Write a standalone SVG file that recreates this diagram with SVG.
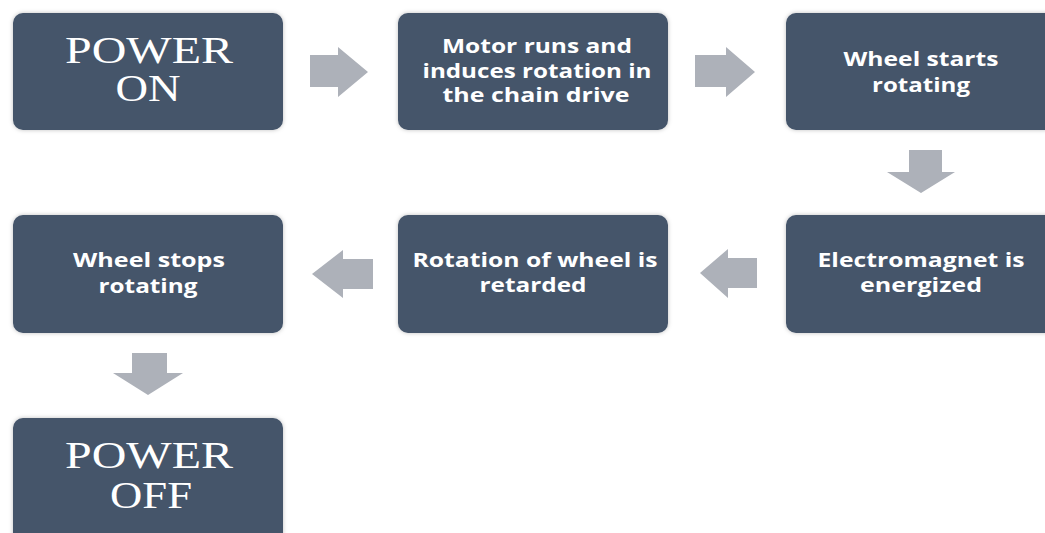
<svg xmlns="http://www.w3.org/2000/svg" width="1045" height="533" viewBox="0 0 1045 533">
  <defs>
    <filter id="sh" x="-10%" y="-10%" width="120%" height="120%">
      <feDropShadow dx="0" dy="0" stdDeviation="2" flood-color="#000" flood-opacity="0.25"/>
    </filter>
    <style>
      .box { fill: #44546A; filter: url(#sh); }
      .arrow { fill: #ADB1B9; }
      .serif { font-family: "Liberation Serif", "DejaVu Serif", serif; font-size: 38px; fill: #FFFFFF; text-anchor: middle; }
      .sans { font-family: "Open Sans", "Liberation Sans", sans-serif; font-weight: bold; font-size: 19px; fill: #FFFFFF; text-anchor: middle; }
    </style>
  </defs>
  <rect width="1045" height="533" fill="#FFFFFF"/>

  <g id="connectors">
    <polygon class="arrow" points="310,55 338,55 338,47 368,72 338,97 338,87 310,87"/>
    <polygon class="arrow" points="695,55 726,55 726,47 755,72 726,97 726,87 695,87"/>
    <polygon class="arrow" points="909,150 942,150 942,172 955,172 921,193 887,172 909,172"/>
    <polygon class="arrow" points="757,258 728,258 728,249 700,273 728,298 728,288 757,288"/>
    <polygon class="arrow" points="373,259 343,259 343,250 312,274 343,298 343,289 373,289"/>
    <polygon class="arrow" points="132,353 167,353 167,373 183,373 148,395 113,373 132,373"/>
  </g>

  <g id="node-power-on">
    <rect class="box" x="13" y="13" width="270" height="117" rx="10"/>
    <text class="serif" x="149" y="63" textLength="168" lengthAdjust="spacingAndGlyphs">POWER</text>
    <text class="serif" x="148" y="101" textLength="65" lengthAdjust="spacingAndGlyphs">ON</text>
  </g>

  <g id="node-motor">
    <rect class="box" x="398" y="13" width="270" height="117" rx="10"/>
    <text class="sans" x="537" y="53" textLength="190" lengthAdjust="spacingAndGlyphs">Motor runs and</text>
    <text class="sans" x="537" y="78" textLength="229" lengthAdjust="spacingAndGlyphs">induces rotation in</text>
    <text class="sans" x="536" y="102" textLength="187" lengthAdjust="spacingAndGlyphs">the chain drive</text>
  </g>

  <g id="node-wheel-starts">
    <rect class="box" x="786" y="13" width="270" height="117" rx="10"/>
    <text class="sans" x="921" y="66" textLength="155" lengthAdjust="spacingAndGlyphs">Wheel starts</text>
    <text class="sans" x="921" y="92" textLength="98" lengthAdjust="spacingAndGlyphs">rotating</text>
  </g>

  <g id="node-electromagnet">
    <rect class="box" x="786" y="215" width="270" height="118" rx="10"/>
    <text class="sans" x="921" y="267" textLength="207" lengthAdjust="spacingAndGlyphs">Electromagnet is</text>
    <text class="sans" x="921" y="292" textLength="122" lengthAdjust="spacingAndGlyphs">energized</text>
  </g>

  <g id="node-retarded">
    <rect class="box" x="398" y="215" width="270" height="118" rx="10"/>
    <text class="sans" x="535" y="267" textLength="245" lengthAdjust="spacingAndGlyphs">Rotation of wheel is</text>
    <text class="sans" x="533" y="292" textLength="107" lengthAdjust="spacingAndGlyphs">retarded</text>
  </g>

  <g id="node-wheel-stops">
    <rect class="box" x="13" y="215" width="270" height="118" rx="10"/>
    <text class="sans" x="149" y="267" textLength="152" lengthAdjust="spacingAndGlyphs">Wheel stops</text>
    <text class="sans" x="148" y="293" textLength="99" lengthAdjust="spacingAndGlyphs">rotating</text>
  </g>

  <g id="node-power-off">
    <rect class="box" x="13" y="418" width="270" height="125" rx="10"/>
    <text class="serif" x="149" y="468" textLength="168" lengthAdjust="spacingAndGlyphs">POWER</text>
    <text class="serif" x="151" y="508" textLength="82" lengthAdjust="spacingAndGlyphs">OFF</text>
  </g>
</svg>
